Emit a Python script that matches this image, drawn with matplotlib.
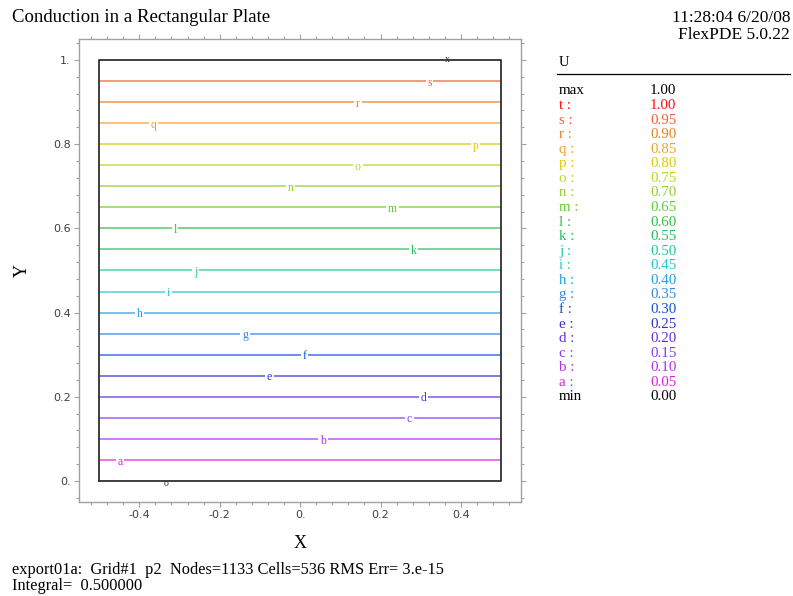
import matplotlib.pyplot as plt
import numpy as np
from matplotlib.ticker import MultipleLocator, FuncFormatter

# contour levels, their letters and where the letter sits on each line
levels = [0.05, 0.10, 0.15, 0.20, 0.25, 0.30, 0.35, 0.40, 0.45, 0.50,
          0.55, 0.60, 0.65, 0.70, 0.75, 0.80, 0.85, 0.90, 0.95, 1.00]
letters = ['a', 'b', 'c', 'd', 'e', 'f', 'g', 'h', 'i', 'j',
           'k', 'l', 'm', 'n', 'o', 'p', 'q', 'r', 's', 't']
label_x = [-0.448, 0.057, 0.272, 0.308, -0.076, 0.011, -0.137, -0.400, -0.328, -0.260,
           0.282, -0.311, 0.230, -0.023, 0.144, 0.437, -0.364, 0.144, 0.322, None]
colors = ['#e020e0', '#b030f0', '#8838f0', '#6030e0', '#3030d0', '#1050e0', '#3088e8',
          '#20a0e0', '#20c8d0', '#20c8a0', '#20c060', '#30c040', '#60d030', '#90d028',
          '#b8d820', '#e0c800', '#f0a030', '#e88020', '#f06038', '#ff1010']

u_max, u_min = 1.00, 0.00
max_pos = (0.367, 1.0)
min_pos = (-0.3325, 0.0)

title = 'Conduction in a Rectangular Plate'
stamp = '11:28:04 6/20/08'
version = 'FlexPDE 5.0.22'
footer1 = 'export01a:  Grid#1  p2  Nodes=1133 Cells=536 RMS Err= 3.e-15'
footer2 = 'Integral=  0.500000'

W, H = 793, 596
serif = 'Liberation Serif'


def px(x, y):
    # pixel position -> figure fraction
    return x / W, 1 - y / H


fig = plt.figure(figsize=(W / 100, H / 100), dpi=100)
ax = fig.add_axes([79 / W, 1 - 502 / H, 442.2 / W, 463.1 / H])
ax.set_xlim(-0.55, 0.55)
ax.set_ylim(-0.05, 1.05)

# outer frame and ticks
for sp in ax.spines.values():
    sp.set_color('#a0a0a0')
    sp.set_linewidth(1.0)
ax.xaxis.set_major_locator(MultipleLocator(0.2))
ax.xaxis.set_minor_locator(MultipleLocator(0.04))
ax.yaxis.set_major_locator(MultipleLocator(0.2))
ax.yaxis.set_minor_locator(MultipleLocator(0.04))
ax.tick_params(which='both', direction='out', top=True, right=True,
               color='#a0a0a0', labelsize=8, labelcolor='#404040')
ax.tick_params(which='major', length=3.8, width=0.8, pad=2)
ax.tick_params(which='minor', length=2.0, width=0.8)


def fmt(v, pos):
    v = round(v, 6)
    if abs(v) < 1e-9:
        return '0.'
    if v == int(v):
        return '%d.' % v
    return ('%.1f' % v)


ax.xaxis.set_major_formatter(FuncFormatter(fmt))
ax.yaxis.set_major_formatter(FuncFormatter(fmt))
for lab in ax.get_xticklabels() + ax.get_yticklabels():
    lab.set_family('DejaVu Sans')

ax.set_xlabel('X', family=serif, fontsize=13, va='center')
ax.set_ylabel('Y', family=serif, fontsize=13, va='center')
ax.xaxis.set_label_coords(0.5, -41 / 463.1)
ax.yaxis.set_label_coords(-57 / 442.2, 0.5)

# domain outline
ax.plot([-0.5, 0.5, 0.5, -0.5, -0.5], [0, 0, 1, 1, 0], color='#303030', lw=1.3, zorder=4)

# contour lines with their letters
for lv, let, lx, c in zip(levels, letters, label_x, colors):
    if lv >= 1.0:
        continue
    ax.plot([-0.5, 0.5], [lv, lv], color=c, lw=1.1, alpha=0.8, zorder=2)
    ax.text(lx, lv - 0.004, let, color=c, family=serif, fontsize=8.5,
            ha='center', va='center', zorder=3,
            bbox=dict(facecolor='white', edgecolor='none', pad=1.2))

ax.text(max_pos[0], max_pos[1] + 0.001, 'x', family=serif, fontsize=7, color='#303030',
        ha='center', va='center', zorder=5)
ax.text(min_pos[0], min_pos[1] - 0.006, 'o', family=serif, fontsize=7, color='#303030',
        ha='center', va='center', zorder=5)

# header and footer text
fig.text(*px(12, 18), title, family=serif, fontsize=13.5, va='center', ha='left')
fig.text(*px(790, 18), stamp, family=serif, fontsize=12.5, va='center', ha='right')
fig.text(*px(790, 35), version, family=serif, fontsize=12.5, va='center', ha='right')
fig.text(*px(12, 570), footer1, family=serif, fontsize=11.8, va='center', ha='left')
fig.text(*px(12, 586), footer2, family=serif, fontsize=11.8, va='center', ha='left')

# legend table on the right
fig.text(*px(559, 62), 'U', family=serif, fontsize=10.5, va='center', ha='left')
fig.add_artist(plt.Line2D([557 / W, 790 / W], [1 - 74 / H, 1 - 74 / H],
                          color='black', lw=0.9, transform=fig.transFigure))
rows = [('max', u_max, 'black')]
for lv, let, c in zip(levels[::-1], letters[::-1], colors[::-1]):
    rows.append((let + ' :', lv, c))
rows.append(('min', u_min, 'black'))
y0, dy = 91, 14.57
for k, (name, val, c) in enumerate(rows):
    y = y0 + k * dy
    fig.text(*px(559, y), name, family=serif, fontsize=10.8, color=c, va='center', ha='left')
    fig.text(*px(650, y), '%.2f' % val, family=serif, fontsize=10.8, color=c,
             va='center', ha='left')

fig.savefig('out.png', dpi=100)
